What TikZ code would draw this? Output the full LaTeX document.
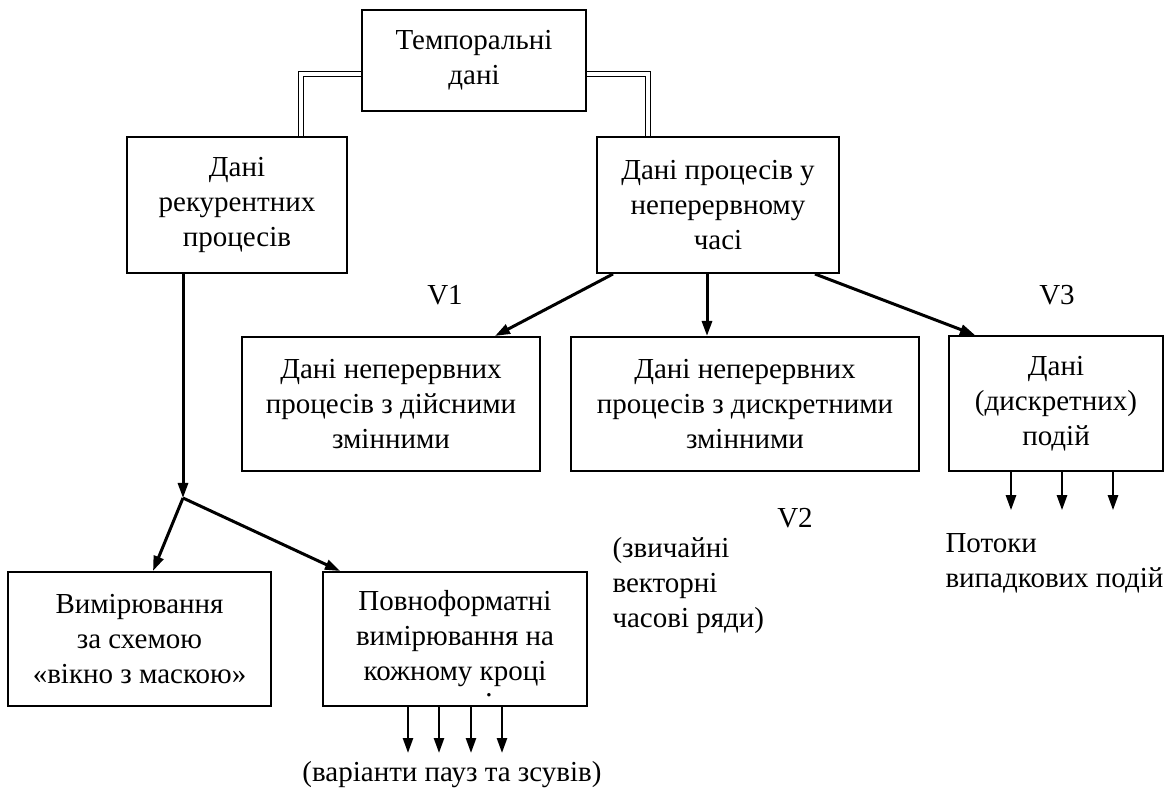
\documentclass[tikz,border=0pt]{standalone}
\usepackage{fontspec}
\setmainfont{Liberation Serif}
\usetikzlibrary{arrows.meta}
\begin{document}
\begin{tikzpicture}[x=0.4pt,y=-0.4pt,
	every node/.style={font=\fontsize{11.6pt}{14pt}\selectfont,inner sep=0},
	box/.style={draw,line width=0.8pt,align=center},
	arr/.style={line width=1.2pt,-{Triangle[length=6pt,width=4pt]}},
	flow/.style={line width=1pt,-{Triangle[length=6pt,width=4pt]}},
	dbl/.style={double,line width=0.7pt,double distance=1.3pt}]
	\useasboundingbox (0,0) rectangle (1166,791);
	\node[box,minimum width=89.6pt,minimum height=40.4pt] (1) at (474,60.5) {Темпоральні\\дані};
	\node[box,minimum width=88pt,minimum height=54.4pt] (2) at (237,205) {Дані\\рекурентних\\процесів};
	\node[box,minimum width=96.8pt,minimum height=54.4pt] (3) at (718,205) {Дані процесів у\\неперервному\\часі};
	\node[box,minimum width=119.2pt,minimum height=53.6pt] (4) at (391,404) {Дані неперервних\\процесів з дійсними\\змінними};
	\node[box,minimum width=139.2pt,minimum height=53.6pt] (5) at (745,404) {Дані неперервних\\процесів з дискретними\\змінними};
	\node[box,minimum width=85.6pt,minimum height=54pt] (6) at (1056,403.5) {Дані\\(дискретних)\\подій};
	\node[box,minimum width=105.2pt,minimum height=53.6pt] (7) at (139.5,639) {Вимірювання\\за схемою\\«вікно з маскою»};
	\node[box,minimum width=105.6pt,minimum height=53.6pt] (8) at (455,639) {Повноформатні\\вимірювання на\\кожному кроці};
	\node[anchor=north,inner ysep=3pt] (9) at (452,753) {(варіанти пауз та зсувів)};
	\node[anchor=west,align=left] (10) at (612,586) {(звичайні\\векторні\\часові ряди)};
	\node[anchor=west,align=left,inner ysep=9pt] (11) at (945,563) {Потоки\\випадкових подій};
	\node (v1) at (445,295) {V1};
	\node (v2) at (795,518) {V2};
	\node (v3) at (1057,295) {V3};
	\node[anchor=base] (dot) at (489,696) {.};
	\coordinate (b) at (183,498);
	% double links from the root
	\draw[dbl] (1.west |- 0,74) -| (2.north -| 301,0);
	\draw[dbl] (1.east |- 0,74) -| (3.north -| 648,0);
	% continuous time branch
	\draw[arr] (3.south -| 613,0) -- (4.north -| 495,0);
	\draw[arr] (3.south -| 707,0) -- (5.north -| 707,0);
	\draw[arr] (3.south -| 815,0) -- (6.north -| 975,0);
	% recurrent branch
	\draw[arr] (2.south -| 183,0) -- (b);
	\draw[arr] (b) -- (7.north -| 153,0);
	\draw[arr] (b) -- (8.north -| 340,0);
	\foreach \x in {408,439,471,502}
		\draw[flow] (8.south -| \x,0) -- (9.north -| \x,0);
	\foreach \x in {1011,1062,1113}
		\draw[flow] (6.south -| \x,0) -- (11.north -| \x,0);
\end{tikzpicture}
\end{document}
